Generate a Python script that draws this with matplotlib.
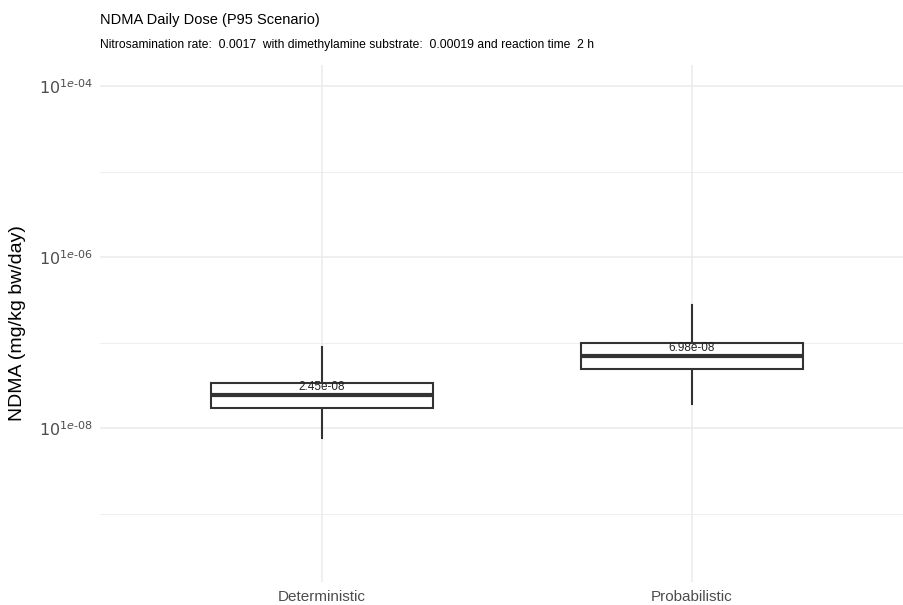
import numpy as np
import matplotlib.pyplot as plt

plt.rcParams['font.family'] = ['Liberation Sans', 'DejaVu Sans']

# data
categories = ["Deterministic", "Probabilistic"]
whisker_low = [7.6e-9, 1.91e-8]
box_low = [1.71e-8, 4.9e-8]
medians = [2.45e-8, 6.98e-8]
box_high = [3.36e-8, 1.0e-7]
whisker_high = [8.85e-8, 2.75e-7]
median_labels = ["2.45e-08", "6.98e-08"]

major_ticks = [1e-8, 1e-6, 1e-4]
major_labels = [r"$10^{1e\text{-}08}$", r"$10^{1e\text{-}06}$", r"$10^{1e\text{-}04}$"]
minor_ticks = [1e-9, 1e-7, 1e-5]


def main():
    fig = plt.figure(figsize=(9.04, 6.05), dpi=100)
    W, H = 904, 605
    left, right, top, bottom = 100, 914, 65, 582
    ax = fig.add_axes([left / W, 1 - bottom / H, (right - left) / W, (bottom - top) / H])

    ax.set_yscale('log')
    lo = 10 ** (-8 - (bottom - 428) / 85.5)
    hi = 10 ** (-4 + (86 - top) / 85.5)
    ax.set_ylim(lo, hi)
    ax.set_xlim(0.4, 2.6)

    grid = '#ebebeb'
    for t in major_ticks:
        ax.axhline(t, color=grid, lw=1.1, zorder=0)
    for t in minor_ticks:
        ax.axhline(t, color=grid, lw=0.6, zorder=0)
    for i in range(len(categories)):
        ax.axvline(i + 1, color=grid, lw=1.1, zorder=0)

    col = '#333333'
    w = 0.6
    for i in range(len(categories)):
        x = i + 1
        ax.plot([x, x], [whisker_low[i], box_low[i]], color=col, lw=1.5, zorder=2)
        ax.plot([x, x], [box_high[i], whisker_high[i]], color=col, lw=1.5, zorder=2)
        ax.add_patch(plt.Rectangle((x - w / 2, box_low[i]), w, box_high[i] - box_low[i],
                                   fill=True, facecolor='white', edgecolor=col, lw=1.5, zorder=3))
        ax.plot([x - w / 2, x + w / 2], [medians[i], medians[i]], color=col, lw=3, zorder=4,
                solid_capstyle='butt')
        ax.text(x, medians[i] * 1.04, median_labels[i], ha='center', va='bottom',
                fontsize=8.5, color='#222222', zorder=5)

    ax.set_xticks([1, 2])
    ax.set_xticklabels(categories, fontsize=11, color='#4d4d4d')
    ax.set_yticks(major_ticks)
    ax.set_yticklabels(major_labels, fontsize=11.5, color='#4d4d4d')
    ax.yaxis.set_minor_locator(plt.NullLocator())
    ax.tick_params(axis='y', length=0, pad=5)
    ax.tick_params(axis='x', length=0, pad=6)
    for s in ax.spines.values():
        s.set_visible(False)

    ax.set_ylabel("NDMA (mg/kg bw/day)", fontsize=14, labelpad=9)

    fig.text(left / W, 1 - 20 / H, "NDMA Daily Dose (P95 Scenario)", fontsize=10.5,
             va='center', ha='left')
    fig.text(left / W, 1 - 45 / H,
             "Nitrosamination rate:  0.0017  with dimethylamine substrate:  0.00019 and reaction time  2 h",
             fontsize=8.7, va='center', ha='left')

    fig.savefig("out.png", dpi=100)


if __name__ == "__main__":
    main()
